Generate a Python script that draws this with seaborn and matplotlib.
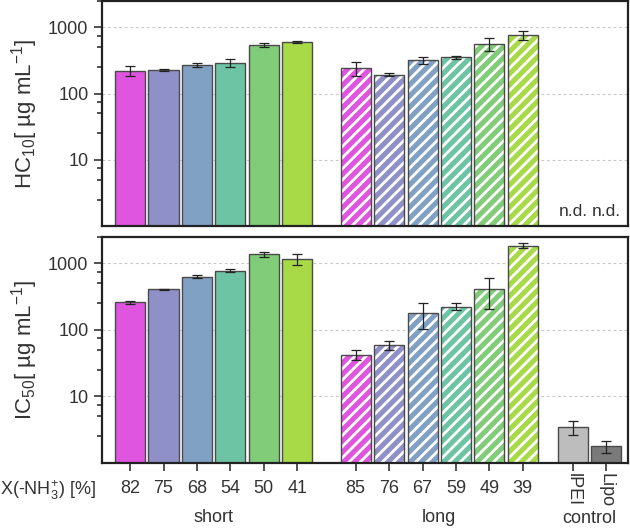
import numpy as np
import pandas as pd
import matplotlib
matplotlib.use('Agg')
import matplotlib.pyplot as plt
import matplotlib.ticker as mticker
import matplotlib.transforms as mtransforms
import seaborn as sns

# ── Data ─────────────────────────────────────────────────────────────────────
short_labels = ["82", "75", "68", "54", "50", "41"]
long_labels = ["85", "76", "67", "59", "49", "39"]
control_labels = ["lPEI", "Lipo"]

hc10_short = [222, 228, 268, 293, 547, 601]
hc10_short_err = [36, 10, 18, 40, 35, 20]
hc10_long = [241, 194, 318, 353, 561, 757]
hc10_long_err = [55, 8, 36, 18, 128, 118]

ic50_short = [258, 405, 630, 774, 1367, 1161]
ic50_short_err = [16, 8, 40, 45, 120, 215]
ic50_long = [42.4, 58.6, 178, 222, 405, 1824]
ic50_long_err = [7, 8.5, 77, 27, 200, 160]
ic50_control = [3.47, 1.78]
ic50_control_err = [0.85, 0.35]

series_colors = ["#E055E0", "#9090C8", "#80A0C4", "#6CC4A4", "#80CC78", "#A8DA48"]
control_colors = ["#BDBDBD", "#7A7A7A"]

# bar positions (gaps between groups)
pos_short = [0, 1, 2, 3, 4, 5]
pos_long = [6.75, 7.75, 8.75, 9.75, 10.75, 11.75]
pos_control = [13.25, 14.25]

# ── Style ────────────────────────────────────────────────────────────────────
sns.set_theme(style="ticks")
plt.rcParams['font.family'] = ['Liberation Sans', 'DejaVu Sans']
plt.rcParams['mathtext.fontset'] = 'custom'
plt.rcParams['mathtext.rm'] = 'Liberation Sans'
plt.rcParams['mathtext.it'] = 'Liberation Sans:italic'
plt.rcParams['hatch.linewidth'] = 2.0
TXT = "#333333"
EDGE = "#4a4a4a"

fig = plt.figure(figsize=(6.3, 5.29), dpi=100)
ax_top = fig.add_axes([0.1614, 0.573, 0.8356, 0.425])
ax_bot = fig.add_axes([0.1614, 0.125, 0.8356, 0.4275])


def make_df(pos, vals, errs, names, cols):
    return pd.DataFrame({"pos": pos, "val": vals, "err": errs,
                         "name": names, "color": cols})


top_df = pd.concat([
    make_df(pos_short, hc10_short, hc10_short_err, ["s" + l for l in short_labels], series_colors),
    make_df(pos_long, hc10_long, hc10_long_err, ["l" + l for l in long_labels], series_colors),
], ignore_index=True)
bot_df = pd.concat([
    make_df(pos_short, ic50_short, ic50_short_err, ["s" + l for l in short_labels], series_colors),
    make_df(pos_long, ic50_long, ic50_long_err, ["l" + l for l in long_labels], series_colors),
    make_df(pos_control, ic50_control, ic50_control_err, control_labels, control_colors),
], ignore_index=True)

hatched = set("l" + l for l in long_labels)

for ax, df in [(ax_top, top_df), (ax_bot, bot_df)]:
    ax.set_yscale('log')
    ax.set_ylim(1, 2500)
    ax.set_xlim(-0.85, 14.9)
    ax.set_axisbelow(True)
    ax.yaxis.grid(True, which='major', color='#c8c8c8', linestyle=(0, (2.5, 2.5)), linewidth=0.8)
    palette = dict(zip(df["name"], df["color"]))
    sns.barplot(data=df, x="pos", y="val", hue="name", palette=palette,
                native_scale=True, dodge=False, width=0.9, legend=False,
                edgecolor=EDGE, linewidth=1.0, saturation=1, errorbar=None, ax=ax)
    # hatch the "long" bars with white stripes
    for patch, name in zip(ax.patches, df["name"]):
        if name in hatched:
            patch.set_hatch('///')
            patch._hatch_color = (1, 1, 1, 1)
    ax.errorbar(df["pos"], df["val"], yerr=df["err"], fmt='none',
                ecolor='#222222', elinewidth=0.9, capsize=3.5, capthick=0.9, zorder=5)
    ax.yaxis.set_major_locator(mticker.FixedLocator([10, 100, 1000]))
    ax.yaxis.set_major_formatter(mticker.FixedFormatter(["10", "100", "1000"]))
    ax.yaxis.set_minor_locator(mticker.LogLocator(base=10, subs=(2.5, 5, 7.5)))
    ax.yaxis.set_minor_formatter(mticker.NullFormatter())
    ax.tick_params(axis='y', which='major', direction='out', length=6, width=1.2,
                   labelsize=13, colors=TXT, labelcolor=TXT)
    ax.tick_params(axis='y', which='minor', direction='out', length=3.5, width=1.2, colors=TXT)
    for sp in ax.spines.values():
        sp.set_visible(True)
        sp.set_linewidth(1.6)
        sp.set_color('#222222')

# top panel: no x ticks
ax_top.set_xticks([])
ax_top.set_xlabel("")
ax_top.set_ylabel(r"HC$_{10}$[ µg mL$^{-1}$]", fontsize=16, color=TXT, labelpad=6)
for p in pos_control:
    ax_top.text(p, 1.25, "n.d.", ha='center', va='bottom', fontsize=12.5, color=TXT)

# bottom panel: ticks at each bar
all_pos = pos_short + pos_long + pos_control
ax_bot.set_xticks(all_pos)
ax_bot.set_xticklabels(short_labels + long_labels + control_labels)
ax_bot.tick_params(axis='x', direction='out', length=6, width=1.2, labelsize=13,
                   colors=TXT, labelcolor=TXT, pad=6)
for t in ax_bot.xaxis.get_major_ticks()[-2:]:
    t.set_pad(1)
    t.label1.set_rotation(-90)
    t.label1.set_va('top')
ax_bot.set_xlabel("")
ax_bot.set_ylabel(r"IC$_{50}$[ µg mL$^{-1}$]", fontsize=16, color=TXT, labelpad=6)

trans = mtransforms.blended_transform_factory(ax_bot.transData, fig.transFigure)
ax_bot.text(np.mean(pos_short), 0.022, "short", transform=trans, ha='center', va='center',
            fontsize=13, color=TXT)
ax_bot.text(np.mean(pos_long), 0.022, "long", transform=trans, ha='center', va='center',
            fontsize=13, color=TXT)
ax_bot.text(np.mean(pos_control), 0.020, "control", transform=trans, ha='center', va='center',
            fontsize=13, color=TXT)
fig.text(0.0, 0.073, r"X(-NH$_3^{+}$) [%]", ha='left', va='center', fontsize=13, color=TXT)

fig.savefig("out.png", dpi=100)
